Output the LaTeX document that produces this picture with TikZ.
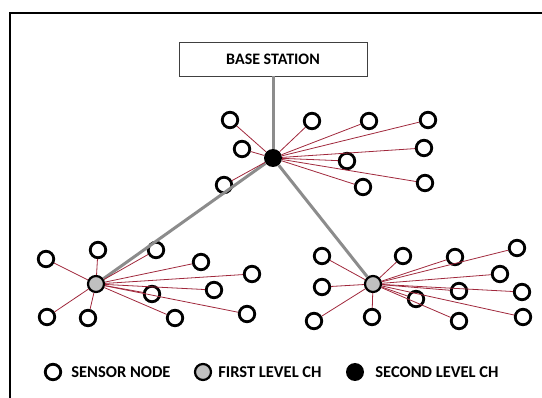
\documentclass[tikz,border=0pt]{standalone}
\usepackage{fontspec}
\setmainfont{Carlito}
\usetikzlibrary{positioning}
\definecolor{colorEnlace}{RGB}{160,40,60}
\definecolor{colorTronco}{RGB}{140,140,140}
\definecolor{colorCH}{RGB}{192,192,192}

\begin{document}
\begin{tikzpicture}[x=1pt, y=-1pt, font=\bfseries\fontsize{16}{19}\selectfont,
        sn/.style={circle, draw=black, line width=2.8pt, minimum size=15.5pt, inner sep=0},
        fch/.style={circle, draw=black, fill=colorCH, line width=2.2pt, minimum size=16pt, inner sep=0},
        sch/.style={circle, fill=black, minimum size=18pt, inner sep=0},
        bs/.style={draw=black!75, line width=0.9pt, minimum width=188pt, minimum height=34pt},
        lk/.style={colorEnlace, line width=0.8pt},
        tk/.style={colorTronco, line width=3pt},
        lbl/.style={inner sep=0, anchor=west, font=\bfseries\fontsize{16.5}{19}\selectfont}]
        \useasboundingbox (0,0) rectangle (542,398);
        \draw[line width=2.8pt] (10,398) -- (10,13) -- (542,13);
        % base station and cluster heads
        \node[bs] (base) at (273,59) {BASE STATION};
        \node[sch] (top) at (273,158) {};
        \node[fch] (chl) at (96,284) {};
        \node[fch] (chr) at (373,284) {};
        % sensors around the second level CH
        \node[sn] (t1) at (230,120) {}; \node[sn] (t2) at (242,149) {}; \node[sn] (t3) at (224,185) {};
        \node[sn] (t4) at (312,121) {}; \node[sn] (t5) at (369,121) {}; \node[sn] (t6) at (428,120) {};
        \node[sn] (t7) at (424,148) {}; \node[sn] (t8) at (347,161) {}; \node[sn] (t9) at (363,187) {};
        \node[sn] (t10) at (425,183) {};
        % sensors around the left CH
        \node[sn] (l1) at (46,259) {}; \node[sn] (l2) at (98,250) {}; \node[sn] (l3) at (156,250) {};
        \node[sn] (l4) at (201,262) {}; \node[sn] (l5) at (252,274) {}; \node[sn] (l6) at (152,294) {};
        \node[sn] (l7) at (214,290) {}; \node[sn] (l8) at (47,317) {}; \node[sn] (l9) at (88,318) {};
        \node[sn] (l10) at (175,318) {}; \node[sn] (l11) at (247,314) {};
        % sensors around the right CH
        \node[sn] (r1) at (322,256) {}; \node[sn] (r2) at (322,287) {}; \node[sn] (r3) at (314,321) {};
        \node[sn] (r4) at (403,256) {}; \node[sn] (r5) at (372,317) {}; \node[sn] (r6) at (455,257) {};
        \node[sn] (r7) at (517,248) {}; \node[sn] (r8) at (500,274) {}; \node[sn] (r9) at (459,291) {};
        \node[sn] (r10) at (416,299) {}; \node[sn] (r11) at (522,292) {}; \node[sn] (r12) at (459,321) {};
        \node[sn] (r13) at (523,317) {};
        % links
        \draw[tk] (base) -- (top); \draw[tk] (top) -- (chl); \draw[tk] (top) -- (chr);
        \draw[lk] (top) -- (t1); \draw[lk] (top) -- (t2); \draw[lk] (top) -- (t3); \draw[lk] (top) -- (t4);
        \draw[lk] (top) -- (t5); \draw[lk] (top) -- (t6); \draw[lk] (top) -- (t7); \draw[lk] (top) -- (t8);
        \draw[lk] (top) -- (t9); \draw[lk] (top) -- (t10);
        \draw[lk] (chl) -- (l1); \draw[lk] (chl) -- (l2); \draw[lk] (chl) -- (l3); \draw[lk] (chl) -- (l4);
        \draw[lk] (chl) -- (l5); \draw[lk] (chl) -- (l6); \draw[lk] (chl) -- (l7); \draw[lk] (chl) -- (l8);
        \draw[lk] (chl) -- (l9); \draw[lk] (chl) -- (l10); \draw[lk] (chl) -- (l11);
        \draw[lk] (chr) -- (r1); \draw[lk] (chr) -- (r2); \draw[lk] (chr) -- (r3); \draw[lk] (chr) -- (r4);
        \draw[lk] (chr) -- (r5); \draw[lk] (chr) -- (r6); \draw[lk] (chr) -- (r7); \draw[lk] (chr) -- (r8);
        \draw[lk] (chr) -- (r9); \draw[lk] (chr) -- (r10); \draw[lk] (chr) -- (r11); \draw[lk] (chr) -- (r12);
        \draw[lk] (chr) -- (r13);
        % legend
        \node[sn] (ks) at (53,372) {};
        \node[lbl, right=9pt of ks] (kst) {SENSOR NODE};
        \node[fch] (kf) at (203,372) {};
        \node[lbl, right=6pt of kf] (kft) {FIRST LEVEL CH};
        \node[sch] (kc) at (355,372) {};
        \node[lbl, right=11pt of kc] (kct) {SECOND LEVEL CH};
    \end{tikzpicture}
\end{document}
